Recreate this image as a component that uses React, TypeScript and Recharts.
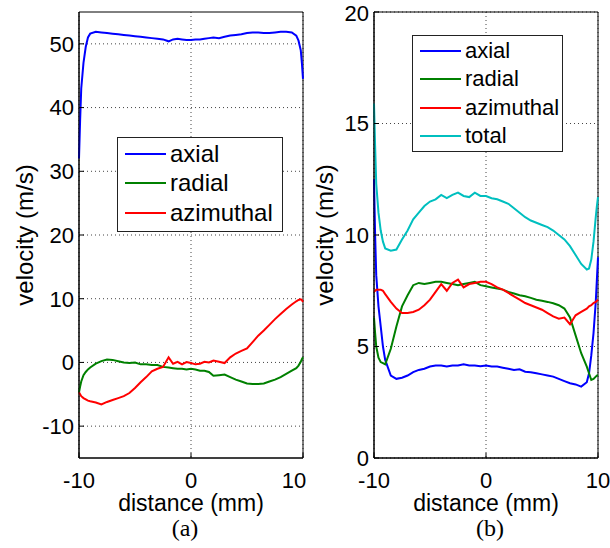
import React from 'react';
import { LineChart, Line, XAxis, YAxis, CartesianGrid, ReferenceArea, Legend } from 'recharts';

const FONT = '"Liberation Sans", Arial, sans-serif';
const SERIF = '"Liberation Serif", "Times New Roman", serif';

// panel (a)
const distanceA = [-10, -9.9, -9.8, -9.6, -9.4, -9.2, -9, -8.5, -8, -7.5, -7, -6.5, -6, -5.5, -5, -4.5, -4, -3.5, -3, -2.5, -2, -1.6, -1.2, -0.8, -0.4, 0, 0.4, 0.8, 1.2, 1.6, 2, 2.5, 3, 3.5, 4, 4.5, 5, 5.5, 6, 6.5, 7, 7.5, 8, 8.5, 9, 9.4, 9.6, 9.8, 9.9, 10];
const axialA = [32, 38, 43, 47, 49.5, 51, 51.6, 51.9, 51.8, 51.7, 51.6, 51.5, 51.4, 51.3, 51.2, 51.1, 51.0, 50.9, 50.8, 50.7, 50.4, 50.7, 50.8, 50.7, 50.6, 50.6, 50.7, 50.7, 50.8, 50.9, 51.0, 50.9, 51.1, 51.3, 51.4, 51.5, 51.7, 51.8, 51.8, 51.7, 51.7, 51.8, 51.9, 51.9, 51.8, 51.3, 50.5, 49, 47, 44.5];
const radialA = [-4.7, -3.8, -3.0, -2.0, -1.5, -1.1, -0.8, -0.2, 0.2, 0.45, 0.4, 0.2, 0, -0.1, 0, -0.3, -0.3, -0.4, -0.4, -0.7, -0.8, -0.9, -1.0, -1.0, -1.1, -1.0, -1.1, -1.3, -1.3, -1.5, -2.1, -2.0, -1.9, -2.3, -2.7, -3.0, -3.3, -3.4, -3.4, -3.3, -3.0, -2.7, -2.3, -1.8, -1.3, -0.9, -0.5, 0.1, 0.5, 0.8];
const azimuthalA = [-4.7, -5.0, -5.3, -5.6, -5.8, -6.0, -6.1, -6.3, -6.6, -6.2, -5.9, -5.6, -5.3, -4.8, -4.0, -3.1, -2.3, -1.4, -1.0, -0.7, 0.8, -0.2, 0.1, -0.3, 0.05, -0.1, -0.3, -0.2, 0.1, 0.0, 0.3, 0.1, -0.1, 0.8, 1.4, 1.8, 2.2, 3.2, 4.2, 5.0, 5.9, 6.8, 7.6, 8.4, 9.1, 9.6, 9.8, 9.9, 9.8, 9.5];

// panel (b)
const distanceB = [-10, -9.9, -9.8, -9.6, -9.4, -9.2, -9, -8.5, -8, -7.5, -7, -6.5, -6, -5.5, -5, -4.5, -4, -3.5, -3, -2.5, -2, -1.5, -1, -0.5, 0, 0.5, 1, 1.5, 2, 2.5, 3, 3.5, 4, 4.5, 5, 5.5, 6, 6.5, 7, 7.5, 8, 8.5, 9, 9.2, 9.4, 9.6, 9.8, 9.9, 10];
const axialB = [12.5, 10, 8.2, 6.8, 5.9, 5.0, 4.4, 3.7, 3.55, 3.6, 3.7, 3.85, 3.95, 4.0, 4.1, 4.15, 4.15, 4.1, 4.15, 4.15, 4.2, 4.15, 4.15, 4.12, 4.15, 4.1, 4.1, 4.05, 4.0, 3.95, 3.98, 3.87, 3.85, 3.8, 3.75, 3.7, 3.65, 3.55, 3.45, 3.35, 3.3, 3.2, 3.4, 3.8, 4.6, 5.6, 7.0, 8.0, 9.0];
const radialB = [6.3, 5.6, 5.0, 4.5, 4.3, 4.25, 4.2, 4.9, 5.9, 6.8, 7.3, 7.75, 7.85, 7.8, 7.85, 7.9, 7.9, 7.85, 7.8, 7.75, 7.8, 7.85, 7.9, 7.75, 7.7, 7.65, 7.6, 7.55, 7.45, 7.38, 7.3, 7.25, 7.18, 7.1, 7.05, 7.0, 6.94, 6.85, 6.7, 6.3, 5.5, 4.7, 4.1, 3.8, 3.5, 3.55, 3.65, 3.7, 3.72];
const azimuthalB = [7.45, 7.5, 7.55, 7.55, 7.55, 7.5, 7.35, 7.0, 6.7, 6.5, 6.5, 6.55, 6.65, 6.85, 7.1, 7.45, 7.8, 7.5, 7.85, 8.0, 7.65, 7.8, 7.85, 7.9, 7.9, 7.8, 7.65, 7.55, 7.4, 7.25, 7.1, 6.95, 6.85, 6.75, 6.65, 6.5, 6.35, 6.25, 6.3, 6.0, 6.4, 6.55, 6.7, 6.8, 6.85, 6.95, 7.0, 7.05, 7.1];
const totalB = [15.9, 14, 12.3, 11.0, 10.2, 9.7, 9.4, 9.3, 9.35, 9.8, 10.2, 10.7, 11.0, 11.3, 11.5, 11.6, 11.8, 11.65, 11.8, 11.9, 11.75, 11.7, 11.9, 11.75, 11.75, 11.65, 11.6, 11.5, 11.4, 11.2, 11.0, 10.8, 10.65, 10.55, 10.45, 10.35, 10.2, 10.0, 9.8, 9.5, 9.1, 8.7, 8.45, 8.5, 8.9, 9.7, 10.8, 11.3, 11.7];

const ticksX = [-10, 0, 10];
const ticksYA = [-10, 0, 10, 20, 30, 40, 50];
const ticksYB = [0, 5, 10, 15, 20];

const dataA = distanceA.map((d, i) => ({ d, axial: axialA[i], radial: radialA[i], azimuthal: azimuthalA[i] }));
const dataB = distanceB.map((d, i) => ({ d, axial: axialB[i], radial: radialB[i], azimuthal: azimuthalB[i], total: totalB[i] }));

const tickStyle = { fill: '#000', fontSize: 22, fontFamily: FONT };
const labelStyle = { fill: '#000', fontSize: 23, fontFamily: FONT, textAnchor: 'middle' as const };

const BoxLegend = ({ payload, order, width, height, rowH, fontSize }: any) => {
  // keep the plotting order, not the alphabetical one
  const items = [...(payload || [])].sort((a: any, b: any) => order.indexOf(a.value) - order.indexOf(b.value));
  return (
    <div
      style={{
        width,
        height,
        border: '1px solid #222',
        background: '#fff',
        boxSizing: 'border-box',
        paddingTop: 1,
        fontFamily: FONT,
        fontSize,
        color: '#000',
      }}
    >
      {items.map((e: any) => (
        <div key={e.value} style={{ display: 'flex', alignItems: 'center', height: rowH }}>
          <span style={{ display: 'inline-block', width: 41, height: 2, background: e.color, marginLeft: 7, marginRight: 4 }} />
          <span style={{ lineHeight: 1 }}>{e.value}</span>
        </div>
      ))}
    </div>
  );
};

const Panel = ({ data, series, yDomain, yTicks, yWidth, marginRight, labelOffset, legend }: any) => (
  <LineChart width={305} height={548} data={data} margin={{ top: 12, right: marginRight, bottom: 34, left: 0 }}>
    <CartesianGrid stroke="#444" strokeDasharray="1 3" horizontalValues={yTicks} verticalValues={ticksX} />
    <XAxis
      dataKey="d"
      type="number"
      domain={[-10, 10]}
      ticks={ticksX}
      height={56}
      tick={tickStyle}
      tickSize={-5}
      tickMargin={19}
      stroke="#000"
      label={{ value: 'distance (mm)', position: 'insideBottom', offset: 3, style: labelStyle }}
    />
    <YAxis
      type="number"
      domain={yDomain}
      ticks={yTicks}
      width={yWidth}
      tick={tickStyle}
      tickSize={-5}
      tickMargin={10}
      stroke="#000"
      label={{ value: 'velocity (m/s)', angle: -90, position: 'insideLeft', offset: labelOffset, style: { ...labelStyle, fontSize: 24 } }}
    />
    <Legend
      layout="vertical"
      align="center"
      verticalAlign="middle"
      wrapperStyle={{ left: legend.left, top: legend.top, width: 'auto' }}
      content={(p: any) => <BoxLegend payload={p.payload} order={series.map((s: any) => s.key)} {...legend} />}
    />
    {series.map((s: any) => (
      <Line
        key={s.key}
        type="linear"
        dataKey={s.key}
        name={s.key}
        stroke={s.color}
        strokeWidth={2}
        dot={false}
        isAnimationActive={false}
      />
    ))}
    <ReferenceArea x1={-10} x2={10} y1={yDomain[0]} y2={yDomain[1]} fill="none" stroke="#000" strokeWidth={1} />
  </LineChart>
);

export default function App() {
  return (
    <div style={{ position: 'relative', width: 610, height: 548, background: '#fff' }}>
      <style>{'body{margin:0}.recharts-surface{overflow:visible}'}</style>
      <div style={{ position: 'absolute', left: 0, top: 0 }}>
        <Panel
          data={dataA}
          series={[
            { key: 'axial', color: '#0000ff' },
            { key: 'radial', color: '#008000' },
            { key: 'azimuthal', color: '#ff0000' },
          ]}
          yDomain={[-15, 55]}
          yTicks={ticksYA}
          yWidth={79}
          marginRight={2}
          labelOffset={24.5}
          legend={{ left: 117, top: 137, width: 166, height: 95, rowH: 29.5, fontSize: 24 }}
        />
      </div>
      <div style={{ position: 'absolute', left: 305, top: 0 }}>
        <Panel
          data={dataB}
          series={[
            { key: 'axial', color: '#0000ff' },
            { key: 'radial', color: '#008000' },
            { key: 'azimuthal', color: '#ff0000' },
            { key: 'total', color: '#00bfbf' },
          ]}
          yDomain={[0, 20]}
          yTicks={ticksYB}
          yWidth={69}
          marginRight={12}
          labelOffset={19.5}
          legend={{ left: 107, top: 35, width: 151, height: 117, rowH: 28.3, fontSize: 22 }}
        />
      </div>
      <div style={{ position: 'absolute', left: 135, width: 100, top: 516, textAlign: 'center', fontFamily: SERIF, fontSize: 24, lineHeight: '24px' }}>
        (a)
      </div>
      <div style={{ position: 'absolute', left: 440, width: 100, top: 516, textAlign: 'center', fontFamily: SERIF, fontSize: 24, lineHeight: '24px' }}>
        (b)
      </div>
    </div>
  );
}
